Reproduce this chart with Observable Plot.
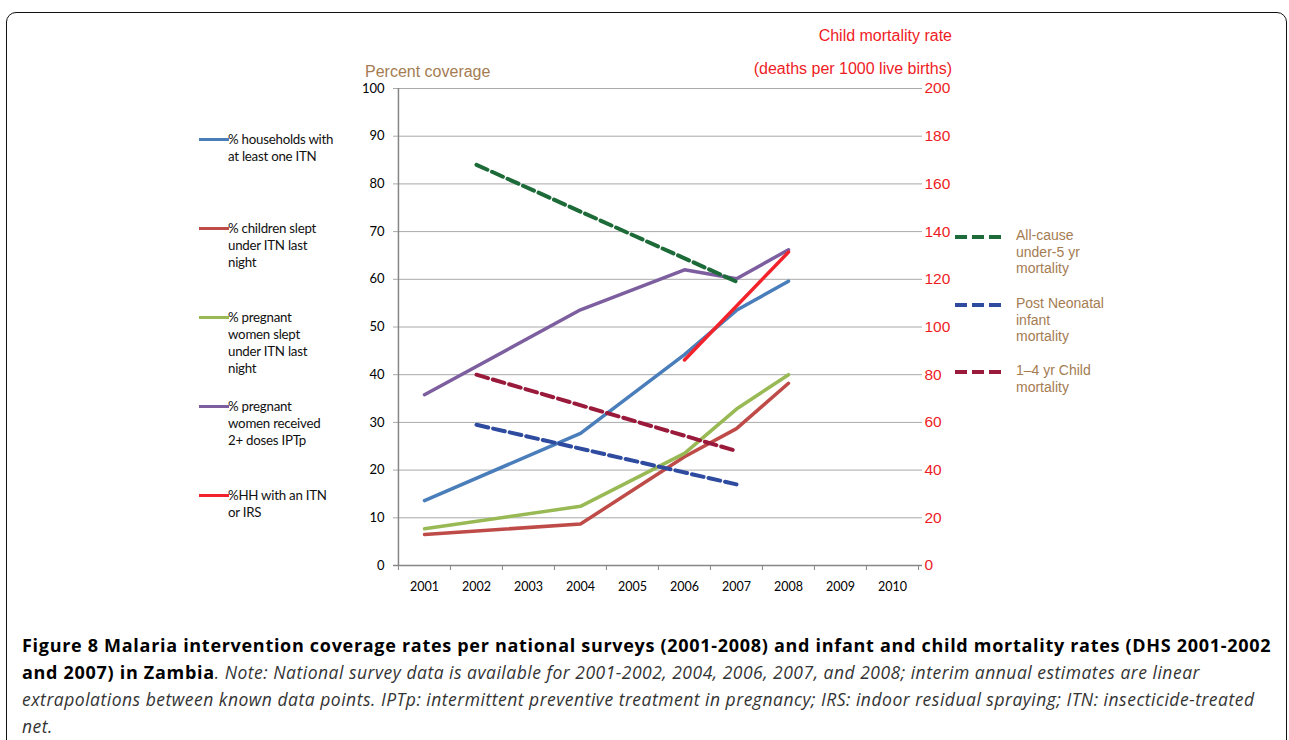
<!DOCTYPE html>
<html>
<head>
<meta charset="utf-8">
<script src="https://cdn.jsdelivr.net/npm/d3@7"></script>
<script src="https://cdn.jsdelivr.net/npm/@observablehq/plot@0.6"></script>
<style>
  html, body { margin: 0; padding: 0; background: #fff; }
  #page { position: relative; width: 1289px; height: 740px; overflow: hidden; }
  #card { position: absolute; left: 6px; top: 12px; width: 1281px; height: 800px;
          border: 1px solid #111; border-radius: 10px; box-sizing: border-box; }
  #chart { position: absolute; left: 0; top: 0; }
  .title { position: absolute; font-family: "Liberation Sans", Arial, sans-serif; font-size: 16px; white-space: nowrap; }
  .legL { position: absolute; left: 199px; font-family: Lato, sans-serif; font-size: 13.3px; line-height: 17px;
          color: #111; letter-spacing: -0.25px; }
  .legL .sw { position: absolute; left: 0; top: 7px; width: 30px; height: 0; border-top: 3.5px solid; }
  .legL .tx { margin-left: 29px; white-space: nowrap; }
  .legR { position: absolute; left: 955px; font-family: "Liberation Sans", Arial, sans-serif; font-size: 14px;
          line-height: 16.7px; color: #a57c52; }
  .legR svg { position: absolute; left: 0; top: 6px; }
  .legR .tx { margin-left: 61px; white-space: nowrap; }
  #caption { position: absolute; left: 22px; top: 632px; font-family: "Open Sans", sans-serif;
             line-height: 26px; color: #222; white-space: nowrap; }
  #caption b { color: #000; font-size: 18px; letter-spacing: 0.7px; }
  #caption i { color: #333; font-size: 17.5px; letter-spacing: 0.5px; }
</style>
</head>
<body>
<div id="page">
  <div id="card"></div>
  <div id="chart"></div>
  <div class="title" style="left:365px; top:63px; color:#a57c52;">Percent coverage</div>
  <div class="title" style="right:337px; top:27px; color:#ee1c25;">Child mortality rate</div>
  <div class="title" style="right:337px; top:60px; color:#ee1c25;">(deaths per 1000 live births)</div>
  <div id="legendLeft"></div>
  <div id="legendRight"></div>
  <div id="caption">
    <b>Figure 8 Malaria intervention coverage rates per national surveys (2001-2008) and infant and child mortality rates (DHS 2001-2002</b><br>
    <b>and 2007) in Zambia</b><i>. Note: National survey data is available for 2001-2002, 2004, 2006, 2007, and 2008; interim annual estimates are linear</i><br>
    <i>extrapolations between known data points. IPTp: intermittent preventive treatment in pregnancy; IRS: indoor residual spraying; ITN: insecticide-treated</i><br>
    <i>net.</i>
  </div>
</div>
<script>
// Category axis: survey years
const years = ["2001", "2002", "2003", "2004", "2005", "2006", "2007", "2008", "2009", "2010"];

// Coverage series (percent, left axis) at the survey years where the lines bend
const coverageYears = ["2001", "2004", "2006", "2007", "2008"];
const hhWithItn = [13.6, 27.7, 44.2, 53.5, 59.6];
const childrenUnderItn = [6.5, 8.7, 22.8, 28.7, 38.2];
const pregnantUnderItn = [7.7, 12.4, 23.5, 32.8, 40.0];
const pregnantIptp = [35.8, 53.6, 62.0, 60.1, 66.2];
const itnOrIrsYears = ["2006", "2008"];
const hhWithItnOrIrs = [43.1, 65.7];

// Mortality series (deaths per 1000 live births, right axis) from DHS 2001-2002 and 2007
const dhsYears = ["2002", "2007"];
const under5Mortality = [168, 119];
const postNeonatalMortality = [59, 34];
const child1to4Mortality = [80, 48];

// Axis tick values
const percentTicks = [0, 10, 20, 30, 40, 50, 60, 70, 80, 90, 100];
const mortalityMax = 200;
const percentMax = 100;

const coverageSeries = [
  {name: "% households with at least one ITN", lines: ["% households with", "at least one ITN"], color: "#4a7ebb", years: coverageYears, values: hhWithItn},
  {name: "% children slept under ITN last night", lines: ["% children slept", "under ITN last", "night"], color: "#be4b48", years: coverageYears, values: childrenUnderItn},
  {name: "% pregnant women slept under ITN last night", lines: ["% pregnant", "women slept", "under ITN last", "night"], color: "#98b954", years: coverageYears, values: pregnantUnderItn},
  {name: "% pregnant women received 2+ doses IPTp", lines: ["% pregnant", "women received", "2+ doses IPTp"], color: "#7d5fa0", years: coverageYears, values: pregnantIptp},
  {name: "%HH with an ITN or IRS", lines: ["%HH with an ITN", "or IRS"], color: "#f2232b", years: itnOrIrsYears, values: hhWithItnOrIrs}
];
const mortalitySeries = [
  {name: "All-cause under-5 yr mortality", lines: ["All-cause", "under-5 yr", "mortality"], color: "#1c6b38", years: dhsYears, values: under5Mortality},
  {name: "Post Neonatal infant mortality", lines: ["Post Neonatal", "infant", "mortality"], color: "#2e4ba0", years: dhsYears, values: postNeonatalMortality},
  {name: "1\u20134 yr Child mortality", lines: ["1\u20134 yr Child", "mortality"], color: "#9a1a3c", years: dhsYears, values: child1to4Mortality}
];

const coverageRows = coverageSeries.flatMap(s => s.years.map((y, i) => ({series: s.name, year: y, value: s.values[i]})));
const mortalityRows = mortalitySeries.flatMap(s => s.years.map((y, i) => ({series: s.name, year: y, value: s.values[i]})));

const W = 1289, H = 600;
const margin = {left: 397, right: 371, top: 88, bottom: 35};
const band = (W - margin.left - margin.right) / years.length;
const toPercent = v => v * percentMax / mortalityMax;

const chart = Plot.plot({
  width: W,
  height: H,
  marginLeft: margin.left,
  marginRight: margin.right,
  marginTop: margin.top,
  marginBottom: margin.bottom,
  style: {fontFamily: "Lato, sans-serif", background: "transparent", overflow: "visible"},
  x: {type: "band", domain: years, padding: 0},
  y: {domain: [0, percentMax]},
  color: {domain: [...coverageSeries, ...mortalitySeries].map(s => s.name), range: [...coverageSeries, ...mortalitySeries].map(s => s.color)},
  marks: [
    // horizontal gridlines, stretching out into short ticks on both axes
    Plot.ruleY(percentTicks.filter(t => t > 0), {stroke: "#a9a9a9", strokeWidth: 1, insetLeft: -4, insetRight: -4}),
    // category axis line and ticks between years
    Plot.ruleY([0], {stroke: "#868686", strokeWidth: 1.5, insetLeft: -4, insetRight: -4}),
    Plot.ruleX(years, {x: d => d, dx: -band / 2, y1: 0, y2: 0, insetBottom: -5, stroke: "#868686", strokeWidth: 1}),
    Plot.ruleX(years.slice(-1), {x: d => d, dx: band / 2, y1: 0, y2: 0, insetBottom: -5, stroke: "#868686", strokeWidth: 1}),
    // left value axis line
    Plot.ruleX(years.slice(0, 1), {x: d => d, dx: -band / 2, stroke: "#868686", strokeWidth: 1.5}),
    Plot.axisY({anchor: "left", ticks: percentTicks, tickSize: 0, tickPadding: 13, label: null, color: "#000", fontSize: 13, fontFamily: "Lato, sans-serif"}),
    Plot.axisY({anchor: "right", ticks: percentTicks, tickFormat: d => d * mortalityMax / percentMax, tickSize: 0, tickPadding: 6, label: null,
                color: "#ee1c25", fontSize: 15.5, fontFamily: "Liberation Sans, Arial, sans-serif"}),
    Plot.axisX({tickSize: 0, tickPadding: 17, label: null, color: "#000", fontSize: 12.5, fontFamily: "Lato, sans-serif"}),
    // coverage lines (left axis)
    Plot.line(coverageRows, {x: "year", y: "value", z: "series", stroke: "series", strokeWidth: 3.5, strokeLinecap: "round", strokeLinejoin: "round"}),
    // mortality lines (right axis, deaths per 1000 mapped onto the percent scale)
    Plot.line(mortalityRows, {x: "year", y: d => toPercent(d.value), z: "series", stroke: "series", strokeWidth: 4, strokeDasharray: "12,5"})
  ]
});
document.getElementById("chart").append(chart);

// Left legend: solid swatches with wrapped labels
const legendLeftTops = [131, 220, 309, 398, 487];
const legL = document.getElementById("legendLeft");
coverageSeries.forEach((s, i) => {
  const item = document.createElement("div");
  item.className = "legL";
  item.style.top = legendLeftTops[i] + "px";
  item.innerHTML = `<div class="sw" style="border-color:${s.color}"></div><div class="tx">${s.lines.join("<br>")}</div>`;
  legL.append(item);
});

// Right legend: dashed swatches
const legendRightTops = [227, 295, 362];
const legR = document.getElementById("legendRight");
mortalitySeries.forEach((s, i) => {
  const item = document.createElement("div");
  item.className = "legR";
  item.style.top = legendRightTops[i] + "px";
  item.innerHTML = `<svg width="48" height="8"><line x1="0" x2="47" y1="4" y2="4" stroke="${s.color}" stroke-width="4" stroke-dasharray="12,5"/></svg><div class="tx">${s.lines.join("<br>")}</div>`;
  legR.append(item);
});
</script>
</body>
</html>
